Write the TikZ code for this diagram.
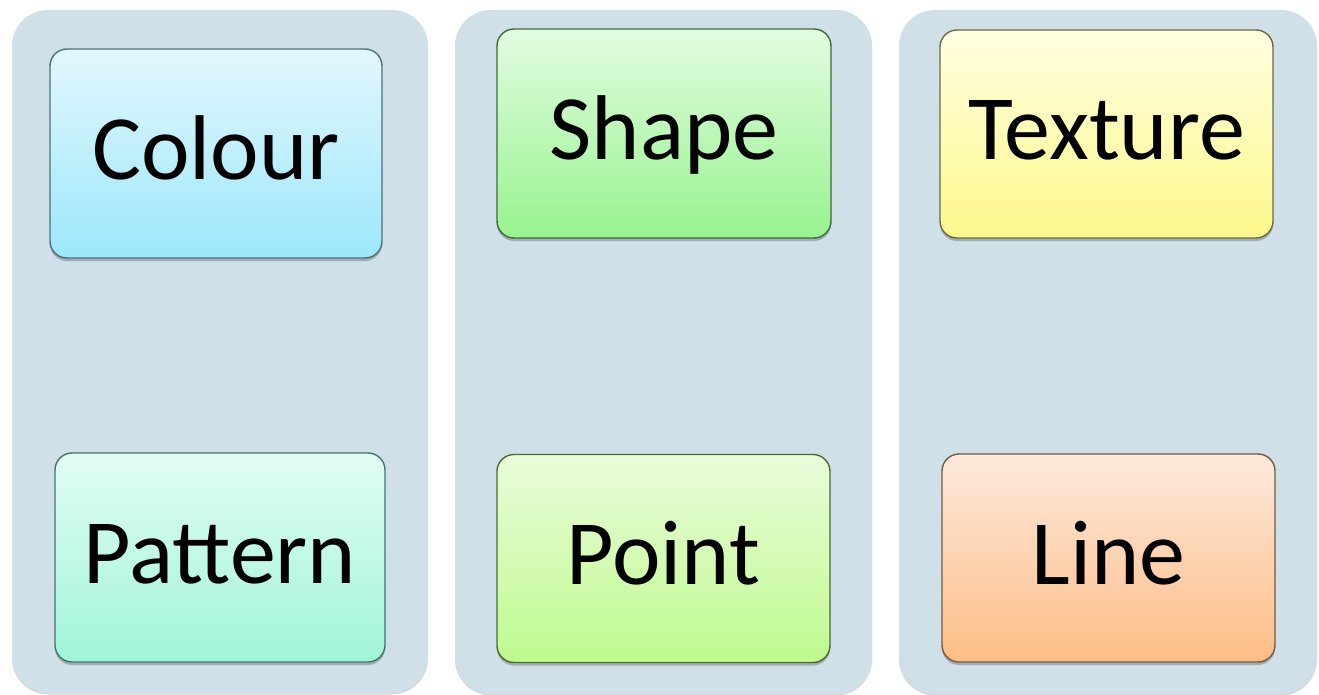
\documentclass[tikz,border=0pt]{standalone}
\usepackage{fontspec}
\setmainfont{Carlito}
\usetikzlibrary{shadows}
\definecolor{panelfill}{HTML}{CFE0E8}
\definecolor{cTop}{HTML}{E2F7FD}\definecolor{cBot}{HTML}{9CE7FB}\definecolor{cLine}{HTML}{4F6F7C}
\definecolor{paTop}{HTML}{E2FDF4}\definecolor{paBot}{HTML}{A0F4D8}\definecolor{paLine}{HTML}{44756A}
\definecolor{sTop}{HTML}{E2FCE0}\definecolor{sBot}{HTML}{97F38F}\definecolor{sLine}{HTML}{3F6A3A}
\definecolor{poTop}{HTML}{EAFCDB}\definecolor{poBot}{HTML}{BEFA8E}\definecolor{poLine}{HTML}{4A6C30}
\definecolor{tTop}{HTML}{FFFFE2}\definecolor{tBot}{HTML}{FDF88B}\definecolor{tLine}{HTML}{6E6B40}
\definecolor{lTop}{HTML}{FDE9DC}\definecolor{lBot}{HTML}{FDBD86}\definecolor{lLine}{HTML}{765A42}
\tikzset{
  panel/.style={rounded corners=36pt, fill=panelfill, draw=none, inner sep=0pt,
    drop shadow={shadow xshift=0pt, shadow yshift=-1.5pt, opacity=0.25, fill=black!60}},
  card/.style args={#1/#2/#3}{rounded corners=17pt, draw=#3, line width=1.4pt,
    top color=#1, bottom color=#2, inner sep=0pt,
    minimum width=333pt, minimum height=208pt,
    text height=52pt, text depth=0pt,
    font=\fontsize{92}{100}\selectfont,
    drop shadow={shadow xshift=0pt, shadow yshift=-3pt, opacity=0.35, fill=black!70}},
}
\begin{document}
\begin{tikzpicture}[x=1pt,y=-1pt]
\useasboundingbox (0,0) rectangle (1319,695);
\fill[white] (0,0) rectangle (1319,695);
\node[panel, minimum width=416pt, minimum height=683pt] (p1) at (220,351.5) {};
\node[panel, minimum width=417pt, minimum height=684pt] (p2) at (663.5,352) {};
\node[panel, minimum width=418pt, minimum height=684pt] (p3) at (1108,352) {};
\node[card=cTop/cBot/cLine, minimum width=332pt, minimum height=209pt] (colour) at (216,153.5) {Colour};
\node[card=paTop/paBot/paLine, minimum width=330pt, minimum height=209pt] (pattern) at (220,557.5) {Pattern};
\node[card=sTop/sBot/sLine, minimum width=334pt, minimum height=209pt] (shape) at (664,133.5) {Shape};
\node[card=poTop/poBot/poLine] (point) at (663.5,558.5) {Point};
\node[card=tTop/tBot/tLine] (texture) at (1106.5,134) {Texture};
\node[card=lTop/lBot/lLine] (line) at (1108.5,558) {Line};
\end{tikzpicture}
\end{document}
